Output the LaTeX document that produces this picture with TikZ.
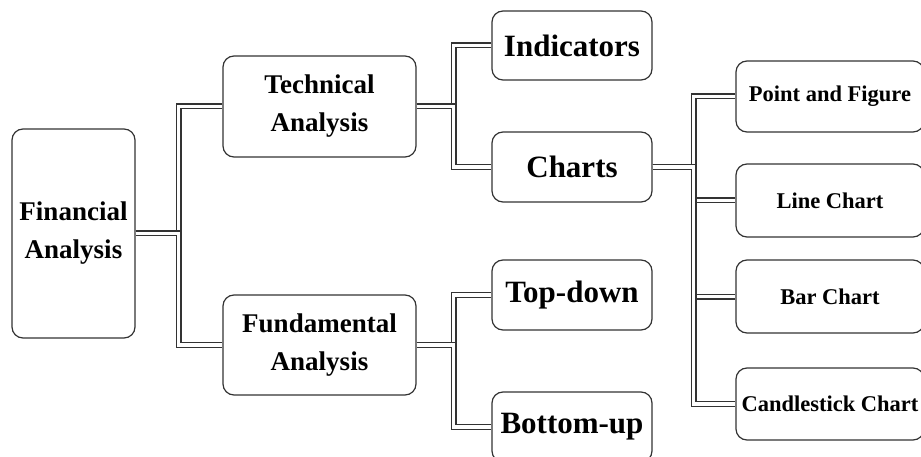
\documentclass[tikz,border=0pt]{standalone}
\usepackage{fontspec}
\setmainfont{Liberation Serif}
\begin{document}
\begin{tikzpicture}[x=1pt,y=-1pt,
  box/.style={draw=black!80, line width=1.2pt, rounded corners=11pt, fill=white, inner sep=0pt, align=center, font=\bfseries},
  big/.style={font=\bfseries\fontsize{31}{38}\selectfont},
  mid/.style={font=\bfseries\fontsize{27}{38}\selectfont},
  small/.style={font=\bfseries\fontsize{22.5}{28}\selectfont},
  link/.style={draw=black!80, double=white, double distance=3.4pt, line width=1.3pt}
]
\useasboundingbox (0,0) rectangle (921,457);
\clip (0,0) rectangle (921,457);
% nodes
\node[box, mid, minimum width=123pt, minimum height=209pt] (fin) at (73.5,233.5) {Financial\\Analysis};
\node[box, mid, minimum width=193pt, minimum height=101pt] (tech) at (319.5,106.5) {Technical\\Analysis};
\node[box, mid, minimum width=193pt, minimum height=100pt] (fund) at (319.5,345) {Fundamental\\Analysis};
\node[box, big, minimum width=160pt, minimum height=69pt] (ind) at (572,45.5) {Indicators};
\node[box, big, minimum width=160pt, minimum height=70pt] (charts) at (572,167) {Charts};
\node[box, big, minimum width=160pt, minimum height=70pt] (top) at (572,295) {Top-down};
\node[box, big, minimum width=160pt, minimum height=70pt] (bot) at (572,427) {Bottom-up};
\node[box, small, minimum width=188pt, minimum height=71pt] (pf) at (830,96.5) {Point and Figure};
\node[box, small, minimum width=188pt, minimum height=73pt] (lc) at (830,200.5) {Line Chart};
\node[box, small, minimum width=188pt, minimum height=73pt] (bc) at (830,296.5) {Bar Chart};
\node[box, small, minimum width=188pt, minimum height=72pt] (cc) at (830,404) {Candlestick Chart};
% connectors
\draw[link] (fin.east) -- ++(43,0) |- (tech.west);
\draw[link] (fin.east) -- ++(43,0) |- (fund.west);
\draw[link] (tech.east) -- ++(37,0) |- (ind.west);
\draw[link] (tech.east) -- ++(37,0) |- (charts.west);
\draw[link] (fund.east) -- ++(37,0) |- (top.west);
\draw[link] (fund.east) -- ++(37,0) |- (bot.west);
\draw[link] (charts.east) -- ++(41,0) |- (pf.west);
\draw[link] (charts.east) -- ++(41,0) |- (lc.west);
\draw[link] (charts.east) -- ++(41,0) |- (bc.west);
\draw[link] (charts.east) -- ++(41,0) |- (cc.west);
\end{tikzpicture}
\end{document}
